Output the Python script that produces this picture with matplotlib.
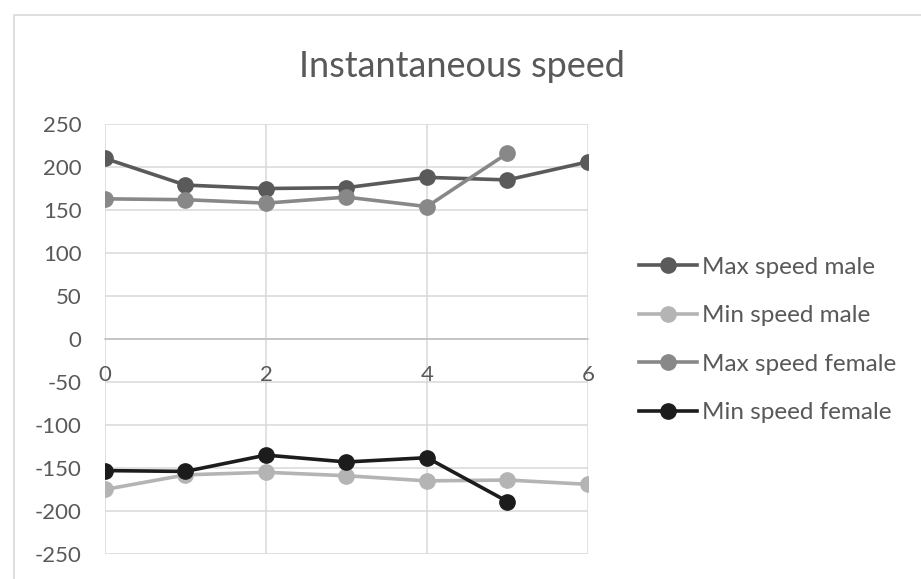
import matplotlib.pyplot as plt
from matplotlib.patches import Rectangle

plt.rcParams['font.family'] = ['Lato', 'DejaVu Sans']
plt.rcParams['axes.unicode_minus'] = False

# Sample index and speeds per series
x_male = [0, 1, 2, 3, 4, 5, 6]
x_female = [0, 1, 2, 3, 4, 5]
max_speed_male = [210, 179, 175, 176, 188, 185, 206]
min_speed_male = [-175, -158, -155, -159, -165, -164, -169]
max_speed_female = [163, 162, 158, 165, 154, 216]
min_speed_female = [-153, -154, -135, -143, -138, -189]

series = [
    ('Max speed male', x_male, max_speed_male, '#5a5a5a'),
    ('Min speed male', x_male, min_speed_male, '#b4b4b4'),
    ('Max speed female', x_female, max_speed_female, '#888888'),
    ('Min speed female', x_female, min_speed_female, '#1c1c1c'),
]

text_color = '#595959'

fig = plt.figure(figsize=(9.21, 5.79), dpi=100)
fig.patches.append(Rectangle((14 / 921, -0.1), 1.1, 1 - 15 / 579 + 0.1,
                             transform=fig.transFigure, fill=False,
                             edgecolor='#d9d9d9', linewidth=1.2))

ax = fig.add_axes([0.114, 0.0432, 0.5244, 0.7426])

for label, xs, ys, color in series:
    ax.plot(xs, ys, color=color, linewidth=2.6, marker='o', markersize=11,
            label=label, zorder=3)

ax.set_xlim(0, 6)
ax.set_ylim(-250, 250)
ax.set_xticks([0, 2, 4, 6])
ax.set_yticks(range(-250, 251, 50))
ax.grid(True, color='#d9d9d9', linewidth=1.1)
ax.set_axisbelow(True)

for side in ['top', 'right', 'left']:
    ax.spines[side].set_visible(False)
ax.spines['bottom'].set_position(('data', 0))
ax.spines['bottom'].set_color('#bfbfbf')
ax.spines['bottom'].set_linewidth(1.1)

ax.tick_params(axis='x', length=0, pad=19, labelsize=16, labelcolor=text_color)
ax.tick_params(axis='y', length=0, pad=17, labelsize=16, labelcolor=text_color)

fig.text(0.5015, 0.885, 'Instantaneous speed', ha='center', va='center',
         fontsize=26, color=text_color)

leg = ax.legend(loc='center left', bbox_to_anchor=(0.670, 0.413),
                bbox_transform=fig.transFigure, frameon=False, fontsize=17.5,
                handlelength=2.4, handletextpad=0.2, labelspacing=1.13,
                labelcolor=text_color)

fig.savefig('out.png', dpi=100)
